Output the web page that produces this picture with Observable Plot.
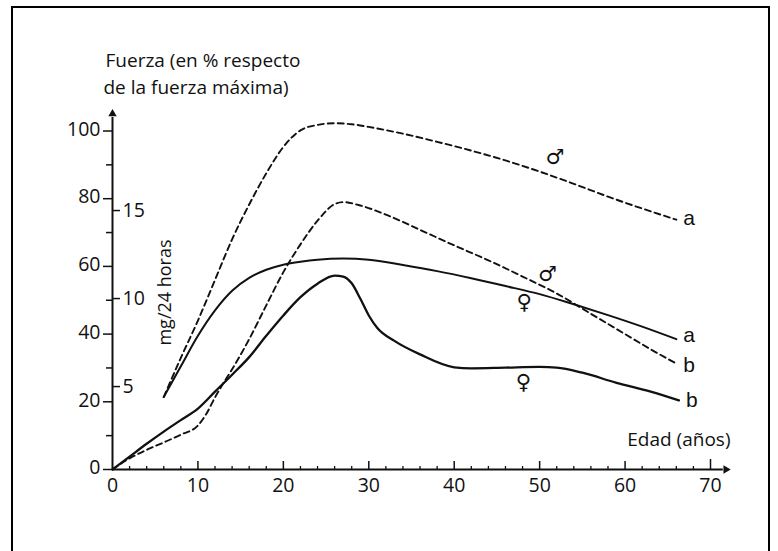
<!DOCTYPE html>
<html><head><meta charset="utf-8">
<script src="https://cdn.jsdelivr.net/npm/d3@7"></script>
<script src="https://cdn.jsdelivr.net/npm/@observablehq/plot@0.6"></script>
<style>
body{margin:0;background:#fff;}
#wrap{position:relative;width:778px;height:551px;overflow:hidden;}
#wrap svg{position:absolute;left:0;top:0;}
#frame{position:absolute;left:11px;top:6px;width:755px;height:600px;border:2.5px solid #000;pointer-events:none;}
</style></head><body><div id="wrap"><div id="frame"></div></div>
<script>
// ---- data (age in years, force in % of maximum) ----
const maleA_age = [6, 8, 10, 12, 14, 16, 18, 20, 22, 24, 26, 28, 30, 34, 38, 42, 46, 50, 54, 58, 62, 66];
const maleA_val = [21.4, 33, 44, 56, 68, 78.3, 87.5, 95.3, 100.2, 101.8, 102.3, 102, 101.2, 99.2, 96.8, 94.2, 91.3, 88, 84.4, 80.6, 77.1, 73.8];

const maleB_age = [0, 2, 4, 6, 8, 10, 11, 12, 13, 14, 16, 18, 20, 22, 24, 26, 27, 29, 32, 36, 40, 44, 48, 52, 56, 60, 63, 66];
const maleB_val = [0, 3.3, 5.8, 8, 10.3, 13, 16.5, 21.3, 25.6, 29.6, 38.5, 48.5, 58.3, 66.5, 73.5, 78.4, 79, 78, 75.3, 70.8, 66.2, 61.8, 57, 52, 46, 40, 35.5, 31.3];

const femaleA_age = [6, 8, 10, 12, 14, 16, 18, 20, 22, 24, 27, 30, 34, 38, 42, 46, 50, 54, 58, 62, 66];
const femaleA_val = [21.4, 30.5, 39.5, 47, 52.8, 56.6, 59, 60.5, 61.4, 62, 62.3, 62, 60.4, 58.6, 56.5, 54.2, 51.8, 48.8, 45.6, 42.2, 38.5];

const femaleB_age = [0, 2, 4, 6, 8, 10, 12, 14, 16, 18, 20, 22, 24, 26, 27, 28, 29, 30, 31, 33, 36, 40, 42, 46, 50, 52, 55, 59, 63, 66.3];
const femaleB_val = [0, 3.8, 7.6, 11.2, 14.6, 18, 23, 28, 33.2, 39.5, 45.5, 50.9, 54.9, 57.3, 57, 55, 50.5, 45.5, 41.8, 38, 34, 30.2, 29.9, 30.1, 30.3, 30.1, 28.6, 25.6, 23, 20.4];

const seriesNames = ["maleA", "maleB", "femaleA", "femaleB"];
const endLabels = ["a", "b", "a", "b"];

// tick values
const xMajor = [0, 10, 20, 30, 40, 50, 60, 70];
const xMinor = d3.range(2, 70, 2).filter(d => d % 10 !== 0);
const yMajor = [0, 20, 40, 60, 80, 100];
const yMinor = [10, 30, 50, 70, 90];
const mgTicks = [5, 10, 15];

// sex symbols (annotation positions)
const symText = ["♂", "♂", "♀", "♀"];
const symAge = [51.8, 50.9, 48.2, 48.1];
const symVal = [92.2, 57.8, 49.4, 25.8];

// ---- build tables ----
const ageArr = [maleA_age, maleB_age, femaleA_age, femaleB_age];
const valArr = [maleA_val, maleB_val, femaleA_val, femaleB_val];
const rows = [];
seriesNames.forEach((s, i) => ageArr[i].forEach((a, j) => rows.push({series: s, age: a, value: valArr[i][j]})));
const endDy = [-1, 2, -4, 0];
const ends = seriesNames.map((s, i) => ({series: s, age: ageArr[i].at(-1), value: valArr[i].at(-1), label: endLabels[i], dy: endDy[i]}));
const syms = symText.map((t, i) => ({t, age: symAge[i], value: symVal[i]}));

// secondary (mg / 24 h) axis mapped onto the % axis
const mg = d3.scaleLinear().domain([5, 15]).range([24.5, 76.5]);

const W = 778, H = 551, ML = 112, MR = 68, MT = 130.5, MB = 82;
const kx = 70 / (W - ML - MR), ky = 100 / (H - MT - MB);
const ink = "#111";
const font = "'Open Sans', 'DejaVu Sans', sans-serif";
const series = s => rows.filter(d => d.series === s);

const chart = Plot.plot({
  width: W, height: H,
  marginLeft: ML, marginRight: MR, marginTop: MT, marginBottom: MB,
  x: {domain: [0, 70], axis: null},
  y: {domain: [0, 100], axis: null},
  style: {fontFamily: font, color: ink, background: "transparent", overflow: "visible"},
  marks: [
    // axes lines
    Plot.ruleX([0], {y1: 0, y2: 104, stroke: ink, strokeWidth: 2}),
    Plot.ruleY([0], {x1: 0, x2: 71.5, stroke: ink, strokeWidth: 2}),
    // arrow heads
    Plot.dot([0], {x: 0, y: 105.1, symbol: "triangle2", r: 4, fill: ink, stroke: "none"}),
    Plot.dot([0], {x: 71.8, y: 0, symbol: "triangle2", r: 4, rotate: 90, fill: ink, stroke: "none"}),
    // y ticks
    Plot.ruleY(yMajor, {y: d => d, x1: -9 * kx, x2: 0, stroke: ink, strokeWidth: 1.5}),
    Plot.ruleY(yMinor, {y: d => d, x1: -6 * kx, x2: 0, stroke: ink, strokeWidth: 1.5}),
    Plot.text(yMajor, {x: 0, y: d => d, text: d => String(d), textAnchor: "end", dx: -12, dy: -1.5, fontSize: 19.5, fill: ink}),
    // x ticks
    Plot.ruleX(xMajor.filter(d => d > 0 && d < 70), {x: d => d, y1: 0, y2: 8 * ky, stroke: ink, strokeWidth: 1.5}),
    Plot.ruleX([70], {x: d => d, y1: 0, y2: 10 * ky, stroke: ink, strokeWidth: 1.5}),
    Plot.ruleX(xMinor, {x: d => d, y1: 0, y2: 3 * ky, stroke: ink, strokeWidth: 1.3}),
    Plot.text(xMajor, {x: d => d, y: 0, text: d => String(d), lineAnchor: "top", dy: 9, fontSize: 19.5, fill: ink}),
    // secondary mg axis
    Plot.ruleY(mgTicks, {y: d => mg(d), x1: 0, x2: 8 * kx, stroke: ink, strokeWidth: 1.5}),
    Plot.text(mgTicks, {x: 0, y: d => mg(d), text: d => String(d), textAnchor: "start", dx: 10, fontSize: 19.5, fill: ink}),
    Plot.text(["mg/24 horas"], {x: 53 * kx, y: (469 - 292) * ky, text: d => d, rotate: -90, fontSize: 18, fill: ink}),
    // titles
    Plot.text(["Fuerza (en % respecto"], {frameAnchor: "top-left", text: d => d, textAnchor: "start", lineAnchor: "bottom", dx: -7, dy: -64, fontSize: 19, fill: ink}),
    Plot.text(["de la fuerza máxima)"], {frameAnchor: "top-left", text: d => d, textAnchor: "start", lineAnchor: "bottom", dx: -9, dy: -37, fontSize: 19, fill: ink}),
    Plot.text(["Edad (años)"], {frameAnchor: "bottom-right", text: d => d, textAnchor: "end", lineAnchor: "bottom", dx: 20, dy: -24, fontSize: 19, fill: ink}),
    // curves
    Plot.line(series("maleA"), {x: "age", y: "value", curve: "monotone-x", stroke: ink, strokeWidth: 1.9, strokeDasharray: "6,4"}),
    Plot.line(series("maleB"), {x: "age", y: "value", curve: "monotone-x", stroke: ink, strokeWidth: 1.9, strokeDasharray: "6,4"}),
    Plot.line(series("femaleA"), {x: "age", y: "value", curve: "monotone-x", stroke: ink, strokeWidth: 2}),
    Plot.line(series("femaleB"), {x: "age", y: "value", curve: "monotone-x", stroke: ink, strokeWidth: 2.3}),
    // end labels
    ...ends.map(e => Plot.text([e], {x: "age", y: "value", text: "label", textAnchor: "start", dx: 7, dy: e.dy, fontSize: 21, fontFamily: "'Liberation Sans', Arial, sans-serif", fill: ink})),
    // sex symbols
    Plot.text(syms, {x: "age", y: "value", text: "t", fontSize: 21, fontFamily: "'DejaVu Sans', sans-serif", fontWeight: "bold", fill: ink})
  ]
});
document.getElementById("wrap").insertBefore(chart, document.getElementById("frame"));
</script></body></html>
